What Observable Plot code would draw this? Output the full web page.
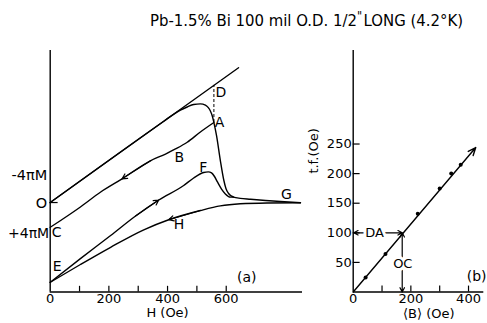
<!DOCTYPE html>
<html>
<head>
<meta charset="utf-8">
<script src="https://cdn.jsdelivr.net/npm/d3@7"></script>
<script src="https://cdn.jsdelivr.net/npm/@observablehq/plot@0.6"></script>
<style>
  html, body { margin: 0; padding: 0; background: #fff; }
  #chart { position: relative; width: 487px; height: 323px; overflow: hidden; background: #fff;
           font-family: "DejaVu Sans", sans-serif; color: #000; }
  #title { position: absolute; left: 150px; top: 13px; font-size: 16px; line-height: 16px;
           white-space: nowrap; transform-origin: 0 0; }
  #title .inch { position: relative; top: -0.5em; margin-left: 0; margin-right: 0.12em; font-size: 0.75em; }
  #panelA { position: absolute; left: 0; top: 40px; }
  #panelB { position: absolute; left: 305px; top: 40px; }
</style>
</head>
<body>
<div id="chart">
  <div id="title">Pb-1.5% Bi 100 mil O.D. 1/2<span class="inch">"</span>LONG (4.2°K)</div>
  <div id="panelA"></div>
  <div id="panelB"></div>
</div>
<script>
// ---------- Panel (a): ordinate (arbitrary, O = 0) against applied field H (Oe) ----------
const hTicks = [100, 200, 300, 400, 500, 600];
const hTickLabels = [0, 200, 400, 600];
const hDomain = [0, 860];
const yDomainA = [-426, 724];

// straight reference line O–D (ordinate equal to H)
const lineOD = [[0, 0], [642, 642]];
// rising field from O: along O–D, over the peak, down through A, flat out to G
const curveOAG = [[0, 0], [386, 386], [427, 426], [444, 440], [467, 455], [489, 467], [512, 470],
  [529, 464], [539, 452], [546, 436], [553, 410], [558, 381], [567, 319], [580, 200], [592, 105],
  [599, 67], [608, 43], [625, 26], [648, 20], [683, 16], [734, 10], [785, 5], [853, -1]];
// falling field from A back through B to C
const curveCBA = [[0, -118], [103, -21], [171, 49], [245, 113], [343, 200], [393, 231], [427, 255],
  [467, 287], [512, 336], [558, 381]];
// rising field from E through F, joining the flat branch
const curveEF = [[0, -380], [103, -267], [206, -157], [291, -64], [370, 12], [455, 81], [489, 117],
  [523, 143], [539, 146], [550, 141], [560, 124], [570, 98], [584, 64], [597, 41], [614, 26], [625, 26]];
// falling field from G through H back to E
const curveGHE = [[0, -380], [103, -295], [206, -213], [319, -130], [404, -82], [512, -38],
  [580, -16], [648, -6], [739, -2], [853, -1]];
// field at which D and A are read
const hDA = 558;

// direction markers, each drawn along a chord of its branch
const flowArrows = [
  {from: curveCBA[4], to: curveCBA[3]},
  {from: curveEF[3], to: curveEF[4]},
  {from: curveGHE[5], to: curveGHE[4]}
];

// ---------- Panel (b): t.f. (Oe) against <B> (Oe) ----------
const bTicks = [100, 200, 300, 400];
const bTickLabels = [0, 200, 400];
const tfTicks = [50, 100, 150, 200, 250];
const bDomain = [0, 453];
const tfDomain = [0, 408];
const bMeasured = [43, 112, 224, 300, 340, 373];
const tfMeasured = [24.5, 64.4, 132, 175, 200, 215];
const fitB = [0, 425];
const fitTF = [0, 244];
const tfDA = 100;   // t.f. marked as DA
const bOC = 170;    // <B> marked as OC

const ink = "#000";
const lw = 1.4;
const baseStyle = {fontFamily: "DejaVu Sans, sans-serif", fontSize: "13px", background: "transparent",
  color: ink, overflow: "visible"};
const pairs = {x: d => d[0], y: d => d[1]};

const plotA = Plot.plot({
  width: 305, height: 283,
  marginLeft: 49.7, marginRight: 3, marginTop: 10, marginBottom: 31.5,
  style: baseStyle,
  x: {domain: hDomain, ticks: hTickLabels, tickSize: 0, tickPadding: 1.5, label: null},
  y: {domain: yDomainA, axis: null},
  marks: [
    Plot.ruleX([0], {stroke: ink, strokeWidth: lw}),
    Plot.ruleY([yDomainA[0]], {stroke: ink, strokeWidth: lw}),
    Plot.ruleX(hTicks, {y1: yDomainA[0], y2: yDomainA[0] + 27, stroke: ink, strokeWidth: 1.2}),
    Plot.ruleY([0], {x1: 0, x2: 27, stroke: ink, strokeWidth: 1.2}),
    Plot.ruleX([hDA], {y1: 381, y2: hDA, stroke: ink, strokeWidth: 1, strokeDasharray: "3,2"}),
    Plot.line(lineOD, {...pairs, stroke: ink, strokeWidth: lw}),
    Plot.line(curveOAG, {...pairs, stroke: ink, strokeWidth: lw, curve: "monotone-x"}),
    Plot.line(curveCBA, {...pairs, stroke: ink, strokeWidth: lw, curve: "monotone-x"}),
    Plot.line(curveEF, {...pairs, stroke: ink, strokeWidth: lw, curve: "monotone-x"}),
    Plot.line(curveGHE, {...pairs, stroke: ink, strokeWidth: lw, curve: "monotone-x"}),
    Plot.arrow(flowArrows, {x1: d => d.from[0], y1: d => d.from[1], x2: d => d.to[0], y2: d => d.to[1],
      stroke: ink, strokeWidth: 1.2, headLength: 7, headAngle: 55}),
    // branch letters
    Plot.text(["A"], {x: 577, y: 381, fontSize: 14, fill: ink}),
    Plot.text(["D"], {x: 582, y: 525, fontSize: 14, fill: ink}),
    Plot.text(["B"], {x: 440, y: 214, fontSize: 14, fill: ink}),
    Plot.text(["F"], {x: 522, y: 168, fontSize: 14, fill: ink}),
    Plot.text(["H"], {x: 439, y: -106, fontSize: 14, fill: ink}),
    Plot.text(["G"], {x: 805, y: 38, fontSize: 14, fill: ink}),
    Plot.text(["C"], {x: 22, y: -141, fontSize: 14, fill: ink}),
    Plot.text(["E"], {x: 24, y: -304, fontSize: 14, fill: ink}),
    Plot.text(["(a)"], {x: 670, y: -356, fontSize: 14, fill: ink}),
    // ordinate labels
    Plot.text(["-4πM"], {x: 0, y: 129, dx: -3, textAnchor: "end", fontSize: 14.5, fill: ink}),
    Plot.text(["O"], {x: 0, y: -5, dx: -3, textAnchor: "end", fontSize: 14.5, fill: ink}),
    Plot.text(["+4πM"], {x: 0, y: -149, dx: -1, textAnchor: "end", fontSize: 14, fill: ink}),
    Plot.text(["H (Oe)"], {x: 400, frameAnchor: "bottom", dy: 25, fontSize: 13, fill: ink})
  ]
});

const plotB = Plot.plot({
  width: 182, height: 283,
  marginLeft: 47.7, marginRight: 3.7, marginTop: 10, marginBottom: 31.5,
  style: baseStyle,
  x: {domain: bDomain, ticks: bTickLabels, tickSize: 0, tickPadding: 1.5, label: null},
  y: {domain: tfDomain, ticks: tfTicks, tickSize: 0, tickPadding: 1.5, label: null},
  marks: [
    Plot.ruleX([0], {stroke: ink, strokeWidth: lw}),
    Plot.ruleY([0], {stroke: ink, strokeWidth: lw}),
    Plot.ruleY(tfTicks, {x1: 0, x2: 24, stroke: ink, strokeWidth: 1.2}),
    Plot.ruleX(bTicks, {y1: 0, y2: 10, stroke: ink, strokeWidth: 1.2}),
    Plot.arrow([0], {x1: fitB[0], y1: fitTF[0], x2: fitB[1], y2: fitTF[1],
      stroke: ink, strokeWidth: lw, headLength: 9, headAngle: 45}),
    Plot.dot(bMeasured, {x: d => d, y: (d, i) => tfMeasured[i], r: 2, fill: ink}),
    // D–A read on the t.f. axis
    Plot.arrow([{x2: 2}, {x2: bOC}], {x1: 74, y1: tfDA, x2: "x2", y2: tfDA,
      stroke: ink, strokeWidth: 1.2, headLength: 6, headAngle: 55}),
    // O–C read on the <B> axis
    Plot.arrow([{y2: tfDA}, {y2: 0}], {x1: bOC, y1: 48, x2: bOC, y2: "y2",
      stroke: ink, strokeWidth: 1.2, headLength: 6, headAngle: 55}),
    Plot.text(["DA"], {x: 74, y: tfDA, fontSize: 13, fill: "white", stroke: "white", strokeWidth: 6}),
    Plot.text(["DA"], {x: 74, y: tfDA, fontSize: 13, fill: ink}),
    Plot.text(["OC"], {x: bOC + 2, y: 48, fontSize: 13, fill: "white", stroke: "white", strokeWidth: 6}),
    Plot.text(["OC"], {x: bOC + 2, y: 48, fontSize: 13, fill: ink}),
    Plot.text(["(b)"], {x: 428, y: 26, fontSize: 14, fill: ink}),
    Plot.text(["t.f.(Oe)"], {frameAnchor: "left", y: 200, dx: -39.5, rotate: -90, fontSize: 13, fill: ink}),
    Plot.text(["⟨B⟩ (Oe)"], {x: 262, frameAnchor: "bottom", dy: 26, fontSize: 13, fill: ink})
  ]
});

document.getElementById("panelA").appendChild(plotA);
document.getElementById("panelB").appendChild(plotB);

// fit the title to its printed width
const title = document.getElementById("title");
const tw = title.getBoundingClientRect().width;
title.style.transform = `scaleX(${313 / tw})`;
</script>
</body>
</html>
